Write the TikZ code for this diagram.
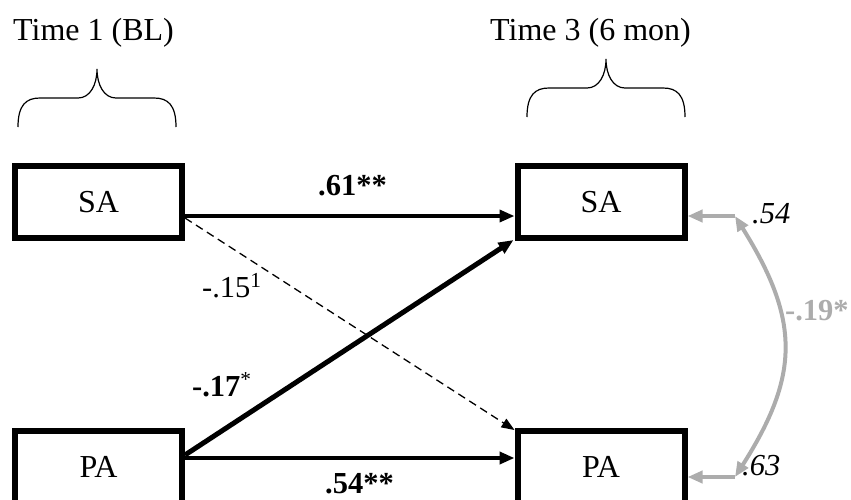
\documentclass[tikz,border=0pt]{standalone}
\usepackage{fontspec}
\setmainfont{Liberation Serif}
\usetikzlibrary{arrows.meta}
\definecolor{covgray}{RGB}{172,172,172}
\tikzset{
  varbox/.style={draw, line width=6pt, minimum width=167pt, minimum height=72pt,
    inner sep=0pt, font=\fontsize{32}{36}\selectfont},
  heading/.style={anchor=base west, inner sep=0pt, font=\fontsize{32}{36}\selectfont},
  coef/.style={anchor=base west, inner sep=0pt, font=\fontsize{30.5}{34}\selectfont},
  effect/.style={line width=4pt, -{Triangle[length=15pt,width=12pt]}},
  weakeffect/.style={line width=1.3pt, dashed, dash pattern=on 8pt off 5pt,
    -{Triangle[length=13pt,width=10pt]}},
  covarrow/.style={covgray, line width=4pt, -{Triangle[length=15pt,width=12pt]}},
  timebrace/.pic={\draw[line width=1.2pt]
    (-79,58) .. controls (-79,36) and (-71,29) .. (-57,29) -- (-19,29)
    .. controls (-7,29) and (0,16) .. (0,0)
    .. controls (0,16) and (7,29) .. (19,29) -- (57,29)
    .. controls (71,29) and (79,36) .. (79,58);}
}
\begin{document}
\begin{tikzpicture}[x=1pt,y=-1pt]
  \useasboundingbox (0,0) rectangle (851,499);

  % time headings and braces
  \node[heading] (t1) at (13,40) {Time 1 (BL)};
  \node[heading] (t3) at (490,40) {Time 3 (6 mon)};
  \pic at (97,69) {timebrace};
  \pic at (606,59) {timebrace};

  % measured variables
  \node[varbox] (sa1) at (98.5,202) {SA};
  \node[varbox] (sa3) at (601,202) {SA};
  \node[varbox] (pa1) at (98.5,467) {PA};
  \node[varbox] (pa3) at (601,467) {PA};

  % cross-lagged and autoregressive paths
  \draw[effect, line width=3.5pt] ([yshift=-14pt]sa1.east) -- ([yshift=-14pt]sa3.west);
  \draw[weakeffect] ([yshift=-16pt]sa1.east) -- ([yshift=-2pt]pa3.north west);
  \draw[effect, line width=5pt] ([yshift=12pt]pa1.east) -- ([xshift=-1pt,yshift=1pt]sa3.south west);
  \draw[effect] ([yshift=9pt]pa1.east) -- ([yshift=9pt]pa3.west);

  % residual covariance at time 3
  \coordinate (r1) at (735,216);
  \coordinate (r2) at (735,477);
  \draw[covarrow] (r1) -- ([yshift=-14pt]sa3.east);
  \draw[covarrow] (r2) -- ([yshift=-10pt]pa3.east);
  \draw[covgray, line width=4pt, {Triangle[length=15pt,width=12pt]}-{Triangle[length=15pt,width=12pt]}]
    (r1) .. controls (800,320) and (800,375) .. (r2);

  % coefficients
  \node[coef] (c61) at (318,195) {\textbf{.61**}};
  \node[coef] (c15) at (202,297) {-.15\textsuperscript{1}};
  \node[coef] (c17) at (192,396) {\textbf{-.17}\textsuperscript{*}};
  \node[coef] (c54) at (325,493) {\textbf{.54**}};
  \node[coef] (e54) at (752,223) {\textit{.54}};
  \node[coef] (e63) at (742,475) {\textit{.63}};
  \node[coef, text=covgray] (c19) at (785,320) {\textbf{-.19*}};
\end{tikzpicture}
\end{document}
